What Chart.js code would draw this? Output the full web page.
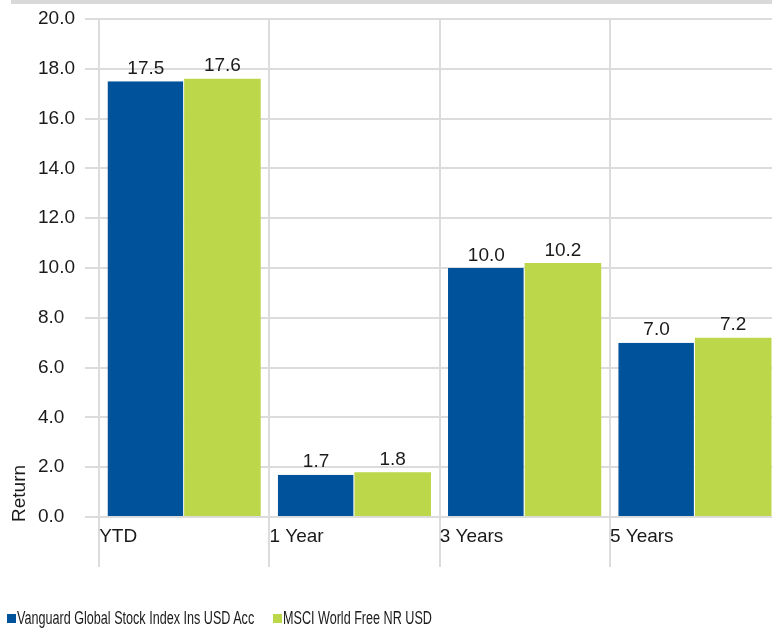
<!DOCTYPE html>
<html>
<head>
<meta charset="utf-8">
<script src="https://cdn.jsdelivr.net/npm/chart.js@4/dist/chart.umd.min.js"></script>
<style>
  body { margin: 0; overflow: hidden; background: #fff; }
  #wrap { position: relative; width: 772px; height: 629px; overflow: hidden; }
  #band { position: absolute; left: 11px; top: 0; width: 761px; height: 4px; background: #d9d9d9; }
  #chart { position: absolute; left: 0; top: 0; }
  #legend { position: absolute; left: 0; top: 609px; width: 772px; height: 20px; font: 18px "Liberation Sans", Arial, sans-serif; color: #1a1a1a; white-space: nowrap; }
  .item { position: absolute; top: 0; }
  .box { position: absolute; left: 0; top: 5px; width: 9px; height: 9px; }
  .txt { position: absolute; left: 10px; top: -1px; display: inline-block; transform: scaleX(0.70); transform-origin: left center; }
</style>
</head>
<body>
<div id="wrap">
  <div id="band"></div>
  <canvas id="chart" width="780" height="629"></canvas>
  <div id="legend"></div>
</div>
<script>
const categories = ['YTD', '1 Year', '3 Years', '5 Years'];
const fundReturns = [17.5, 1.7, 10.0, 7.0];
const indexReturns = [17.6, 1.8, 10.2, 7.2];
const seriesNames = ['Vanguard Global Stock Index Ins USD Acc', 'MSCI World Free NR USD'];
const seriesColors = ['#00529b', '#bdd74b'];
const yMin = 0, yMax = 20, yStep = 2;

const FONT = '"Liberation Sans", Arial, sans-serif';
const TEXT = '#1a1a1a';
const GRID = '#dcdcdc';
const legendX = [7, 273];

// value labels above each bar
const valueLabels = {
    id: 'valueLabels',
    afterDatasetsDraw(chart) {
        const ctx = chart.ctx;
        ctx.save();
        ctx.font = '19px ' + FONT;
        ctx.fillStyle = TEXT;
        ctx.textAlign = 'center';
        ctx.textBaseline = 'bottom';
        chart.data.datasets.forEach((ds, i) => {
            chart.getDatasetMeta(i).data.forEach((bar, j) => {
                ctx.fillText(ds.data[j].toFixed(1), bar.x, bar.y - 3);
            });
        });
        ctx.restore();
    }
};

// vertical axis title, bottom aligned
const yTitle = {
    id: 'yTitle',
    afterDraw(chart) {
        const ctx = chart.ctx;
        ctx.save();
        ctx.font = '19px ' + FONT;
        ctx.fillStyle = TEXT;
        ctx.translate(20, chart.chartArea.bottom + 5);
        ctx.rotate(-Math.PI / 2);
        ctx.textAlign = 'left';
        ctx.textBaseline = 'middle';
        ctx.fillText('Return', 0, 0);
        ctx.restore();
    }
};

const chart = new Chart(document.getElementById('chart'), {
    type: 'bar',
    data: {
        labels: categories,
        datasets: [
            {
                label: seriesNames[0],
                data: fundReturns,
                backgroundColor: seriesColors[0],
                borderColor: '#ffffff',
                borderWidth: { top: 0, right: 1, bottom: 0, left: 0 },
                borderSkipped: false
            },
            {
                label: seriesNames[1],
                data: indexReturns,
                backgroundColor: seriesColors[1],
                borderWidth: 0
            }
        ]
    },
    options: {
        responsive: false,
        animation: false,
        layout: { padding: { top: 19, left: 38, right: 0, bottom: 62 } },
        categoryPercentage: 0.9,
        barPercentage: 1.0,
        plugins: {
            legend: { display: false },
            tooltip: { enabled: false }
        },
        scales: {
            x: {
                offset: true,
                border: { display: false },
                grid: { offset: true, color: GRID, lineWidth: 2, tickLength: 50 },
                ticks: {
                    align: 'start',
                    labelOffset: -85,
                    padding: -42,
                    color: TEXT,
                    font: { family: FONT, size: 19 }
                },
                afterFit: s => { s.height = 50; }
            },
            y: {
                min: yMin,
                max: yMax,
                border: { display: false },
                grid: { color: GRID, lineWidth: 2, tickLength: 14 },
                ticks: {
                    stepSize: yStep,
                    crossAlign: 'far',
                    color: TEXT,
                    font: { family: FONT, size: 19 },
                    callback: v => Number(v).toFixed(1)
                },
                afterFit: s => { s.width = 61; }
            }
        }
    },
    plugins: [valueLabels, yTitle]
});

// legend built from the chart's datasets
const legend = document.getElementById('legend');
chart.data.datasets.forEach((ds, i) => {
    const item = document.createElement('div');
    item.className = 'item';
    item.style.left = legendX[i] + 'px';
    const box = document.createElement('span');
    box.className = 'box';
    box.style.background = ds.backgroundColor;
    const txt = document.createElement('span');
    txt.className = 'txt';
    txt.textContent = ds.label;
    item.appendChild(box);
    item.appendChild(txt);
    legend.appendChild(item);
});
</script>
</body>
</html>
